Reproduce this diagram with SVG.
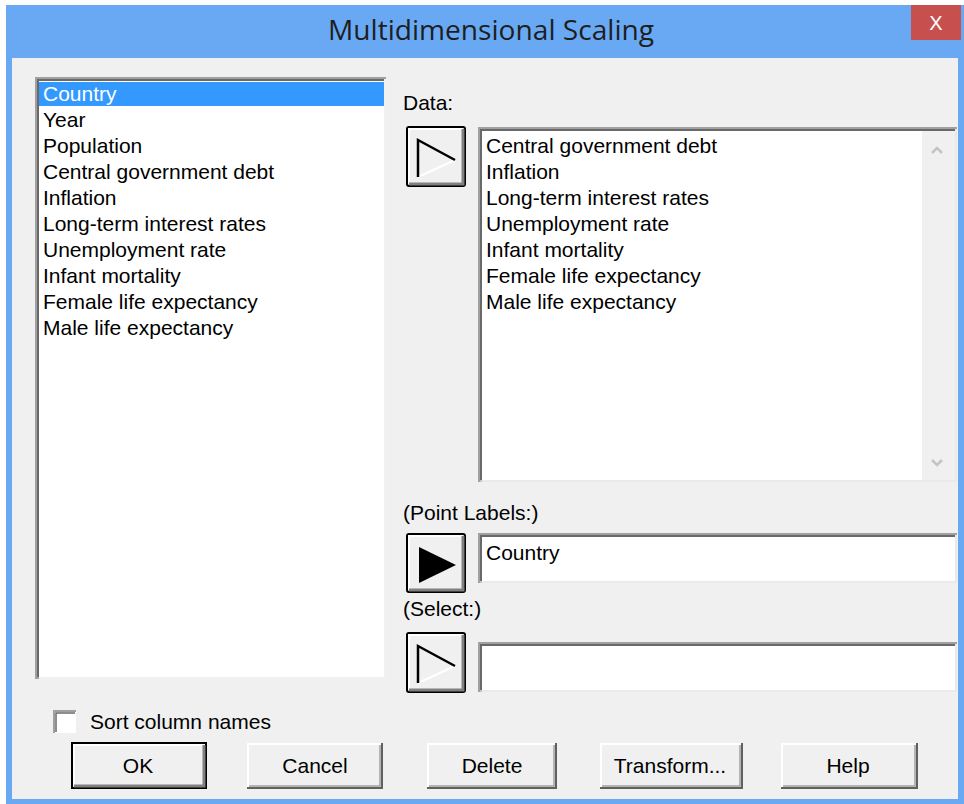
<svg xmlns="http://www.w3.org/2000/svg" width="964" height="804" viewBox="0 0 964 804">
<style>
.t{font-family:"Liberation Sans",Arial,sans-serif;font-size:21px;fill:#000}
.face{fill:#f0f0f0}
.white{fill:#fff}
.btxt{font-family:"Liberation Sans",Arial,sans-serif;font-size:21px;fill:#000;text-anchor:middle}
</style>
<defs>
<g id="btnframe"></g>
</defs>
<rect x="0" y="0" width="964" height="804" fill="#ffffff"/>
<!-- window frame -->
<rect x="6" y="5" width="958" height="799" fill="#69a9f4"/>
<rect x="12" y="58" width="946" height="741" fill="#f0f0f0"/>
<g id="title">
<text x="491" y="40" font-family="'Open Sans','Liberation Sans',sans-serif" font-size="27" fill="#1e1e1e" text-anchor="middle" textLength="326" lengthAdjust="spacingAndGlyphs">Multidimensional Scaling</text>
</g>
<g id="close">
<rect x="911" y="5" width="50" height="35" fill="#c7504f"/>
<text x="936" y="30" font-family="'Liberation Sans',sans-serif" font-size="20" fill="#fff" text-anchor="middle">X</text>
</g>

<!-- left list -->
<g id="columns-list">
<rect x="36" y="78" width="350" height="601" fill="#fff"/>
<path d="M36 679 V78 H386" fill="none" stroke="#a0a0a0" stroke-width="2"/>
<path d="M38 679 V80 H384" fill="none" stroke="#696969" stroke-width="2"/>
<path d="M385 79 V678 H37" fill="none" stroke="#e3e3e3" stroke-width="1"/>
<rect x="39" y="82" width="345" height="24" fill="#3399ff"/>
<text class="t" x="43" y="101" fill="#fff" style="fill:#fff">Country</text>
<text class="t" x="43" y="127">Year</text>
<text class="t" x="43" y="153">Population</text>
<text class="t" x="43" y="179">Central government debt</text>
<text class="t" x="43" y="205">Inflation</text>
<text class="t" x="43" y="231">Long-term interest rates</text>
<text class="t" x="43" y="257">Unemployment rate</text>
<text class="t" x="43" y="283">Infant mortality</text>
<text class="t" x="43" y="309">Female life expectancy</text>
<text class="t" x="43" y="335">Male life expectancy</text>
</g>

<!-- Data -->
<g id="data-label"><text class="t" x="403" y="110">Data:</text></g>
<g id="data-button">
<rect x="407" y="127" width="58" height="59" fill="#f0f0f0" stroke="#000" stroke-width="2" rx="2"/>
<path d="M409 184 V129 H463" fill="none" stroke="#fff" stroke-width="2"/>
<path d="M463 129 V184 H409" fill="none" stroke="#808080" stroke-width="3"/>
<path d="M418 177 L455 160" fill="none" stroke="#fff" stroke-width="2"/>
<path d="M418 177 V140 L455 160" fill="none" stroke="#000" stroke-width="2.5"/>
</g>
<g id="data-list">
<rect x="479" y="128" width="478" height="354" fill="#fff"/>
<rect x="922" y="131" width="33" height="349" fill="#f0f0f0"/>
<path d="M479 482 V128 H957" fill="none" stroke="#a0a0a0" stroke-width="2"/>
<path d="M481 482 V130 H955" fill="none" stroke="#696969" stroke-width="2"/>
<path d="M956 129 V481 H480" fill="none" stroke="#e3e3e3" stroke-width="1.5"/>
<path d="M932 153 L937 148 L942 153" fill="none" stroke="#c4c4c4" stroke-width="2.5"/>
<path d="M932 460 L937 465 L942 460" fill="none" stroke="#c4c4c4" stroke-width="2.5"/>
<text class="t" x="486" y="153">Central government debt</text>
<text class="t" x="486" y="179">Inflation</text>
<text class="t" x="486" y="205">Long-term interest rates</text>
<text class="t" x="486" y="231">Unemployment rate</text>
<text class="t" x="486" y="257">Infant mortality</text>
<text class="t" x="486" y="283">Female life expectancy</text>
<text class="t" x="486" y="309">Male life expectancy</text>
</g>

<!-- Point labels -->
<g id="point-labels-label"><text class="t" x="403" y="520">(Point Labels:)</text></g>
<g id="point-labels-button">
<rect x="407" y="534" width="58" height="58" fill="#f0f0f0" stroke="#000" stroke-width="2" rx="2"/>
<path d="M409 590 V536 H463" fill="none" stroke="#fff" stroke-width="2"/>
<path d="M463 536 V590 H409" fill="none" stroke="#808080" stroke-width="3"/>
<path d="M419 547 L456 565 L419 583 Z" fill="#000"/>
</g>
<g id="point-labels-box">
<rect x="479" y="534" width="478" height="49" fill="#fff"/>
<path d="M479 583 V534 H957" fill="none" stroke="#a0a0a0" stroke-width="2"/>
<path d="M481 583 V536 H955" fill="none" stroke="#696969" stroke-width="2"/>
<path d="M956 535 V582 H480" fill="none" stroke="#e3e3e3" stroke-width="1.5"/>
<text class="t" x="486" y="560">Country</text>
</g>

<!-- Select -->
<g id="select-label"><text class="t" x="403" y="616">(Select:)</text></g>
<g id="select-button">
<rect x="407" y="633" width="58" height="59" fill="#f0f0f0" stroke="#000" stroke-width="2" rx="2"/>
<path d="M409 690 V635 H463" fill="none" stroke="#fff" stroke-width="2"/>
<path d="M463 635 V690 H409" fill="none" stroke="#808080" stroke-width="3"/>
<path d="M418 683 L455 666" fill="none" stroke="#fff" stroke-width="2"/>
<path d="M418 683 V646 L455 666" fill="none" stroke="#000" stroke-width="2.5"/>
</g>
<g id="select-box">
<rect x="479" y="643" width="478" height="49" fill="#fff"/>
<path d="M479 692 V643 H957" fill="none" stroke="#a0a0a0" stroke-width="2"/>
<path d="M481 692 V645 H955" fill="none" stroke="#696969" stroke-width="2"/>
<path d="M956 644 V691 H480" fill="none" stroke="#e3e3e3" stroke-width="1.5"/>
</g>

<!-- checkbox -->
<g id="sort-checkbox">
<rect x="54" y="711" width="22" height="22" fill="#fff"/>
<path d="M54 733 V711 H76" fill="none" stroke="#a0a0a0" stroke-width="2"/>
<path d="M56 732 V713 H75" fill="none" stroke="#696969" stroke-width="1.5"/>
<text class="t" x="90" y="729">Sort column names</text>
</g>

<!-- bottom buttons -->
<g id="ok-button">
<rect x="72" y="743" width="134" height="45" fill="#f0f0f0" stroke="#000" stroke-width="2"/>
<path d="M74 786 V745 H204" fill="none" stroke="#fff" stroke-width="2"/>
<path d="M204 745 V786 H74" fill="none" stroke="#808080" stroke-width="3"/>
<text class="btxt" x="138" y="773">OK</text>
</g>
<g id="cancel-button">
<rect x="247" y="743" width="135" height="45" fill="#f0f0f0"/>
<path d="M248 787 V744 H381" fill="none" stroke="#fff" stroke-width="2"/>
<path d="M382 743 V788 H247" fill="none" stroke="#606060" stroke-width="2"/>
<path d="M380 745 V786 H249" fill="none" stroke="#a0a0a0" stroke-width="1.5"/>
<text class="btxt" x="315" y="773">Cancel</text>
</g>
<g id="delete-button">
<rect x="427" y="743" width="129" height="45" fill="#f0f0f0"/>
<path d="M428 787 V744 H555" fill="none" stroke="#fff" stroke-width="2"/>
<path d="M556 743 V788 H427" fill="none" stroke="#606060" stroke-width="2"/>
<path d="M554 745 V786 H429" fill="none" stroke="#a0a0a0" stroke-width="1.5"/>
<text class="btxt" x="492" y="773">Delete</text>
</g>
<g id="transform-button">
<rect x="600" y="743" width="142" height="45" fill="#f0f0f0"/>
<path d="M601 787 V744 H741" fill="none" stroke="#fff" stroke-width="2"/>
<path d="M742 743 V788 H600" fill="none" stroke="#606060" stroke-width="2"/>
<path d="M740 745 V786 H602" fill="none" stroke="#a0a0a0" stroke-width="1.5"/>
<text class="btxt" x="670" y="773">Transform...</text>
</g>
<g id="help-button">
<rect x="781" y="743" width="136" height="45" fill="#f0f0f0"/>
<path d="M782 787 V744 H916" fill="none" stroke="#fff" stroke-width="2"/>
<path d="M917 743 V788 H781" fill="none" stroke="#606060" stroke-width="2"/>
<path d="M915 745 V786 H783" fill="none" stroke="#a0a0a0" stroke-width="1.5"/>
<text class="btxt" x="848" y="773">Help</text>
</g>
</svg>
